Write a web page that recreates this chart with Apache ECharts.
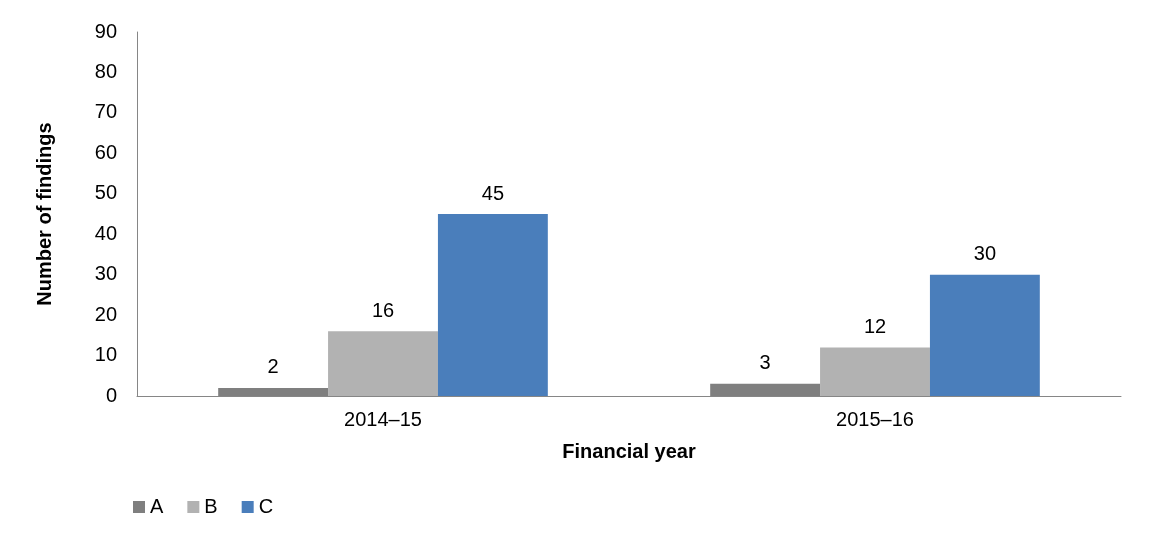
<!DOCTYPE html>
<html>
<head>
<meta charset="utf-8">
<script src="https://cdn.jsdelivr.net/npm/echarts@6/dist/echarts.min.js"></script>
<style>html,body{margin:0;background:#fff}#chart{width:1155px;height:534px}</style>
</head>
<body>
<div id="chart"></div>
<script>
const years = ['2014–15', '2015–16'];
const seriesA = [2, 3];
const seriesB = [16, 12];
const seriesC = [45, 30];

const font = '"Liberation Sans", Arial, sans-serif';
const mk = (name, data, color) => ({
    name, type: 'bar', data, barGap: '0%', barCategoryGap: '33%',
    itemStyle: { color },
    label: { show: true, position: 'top', distance: 10, color: '#000', fontSize: 20, fontFamily: font }
});

const chart = echarts.init(document.getElementById('chart'));
chart.setOption({
    animation: false,
    textStyle: { fontFamily: font },
    grid: { left: 137, right: 34, top: 32, bottom: 138 },
    legend: {
        left: 128, top: 492, itemWidth: 12, itemHeight: 12, itemGap: 24,
        icon: 'rect',
        textStyle: { fontSize: 20, color: '#000', fontFamily: font }
    },
    xAxis: {
        type: 'category', data: years,
        name: 'Financial year', nameLocation: 'middle', nameGap: 46,
        nameTextStyle: { fontSize: 20, fontWeight: 'bold', color: '#000' },
        axisLine: { lineStyle: { color: '#868686' } },
        axisTick: { show: false },
        axisLabel: { fontSize: 20, color: '#000', margin: 14 }
    },
    yAxis: {
        type: 'value', min: 0, max: 90, interval: 10,
        name: 'Number of findings', nameLocation: 'middle', nameGap: 82,
        nameTextStyle: { fontSize: 20, fontWeight: 'bold', color: '#000' },
        axisLine: { show: true, lineStyle: { color: '#868686' } },
        axisTick: { show: false },
        splitLine: { show: false },
        axisLabel: { fontSize: 20, color: '#000', margin: 20 }
    },
    series: [
        mk('A', seriesA, '#7f7f7f'),
        mk('B', seriesB, '#b2b2b2'),
        mk('C', seriesC, '#4a7ebb')
    ]
});
</script>
</body>
</html>
